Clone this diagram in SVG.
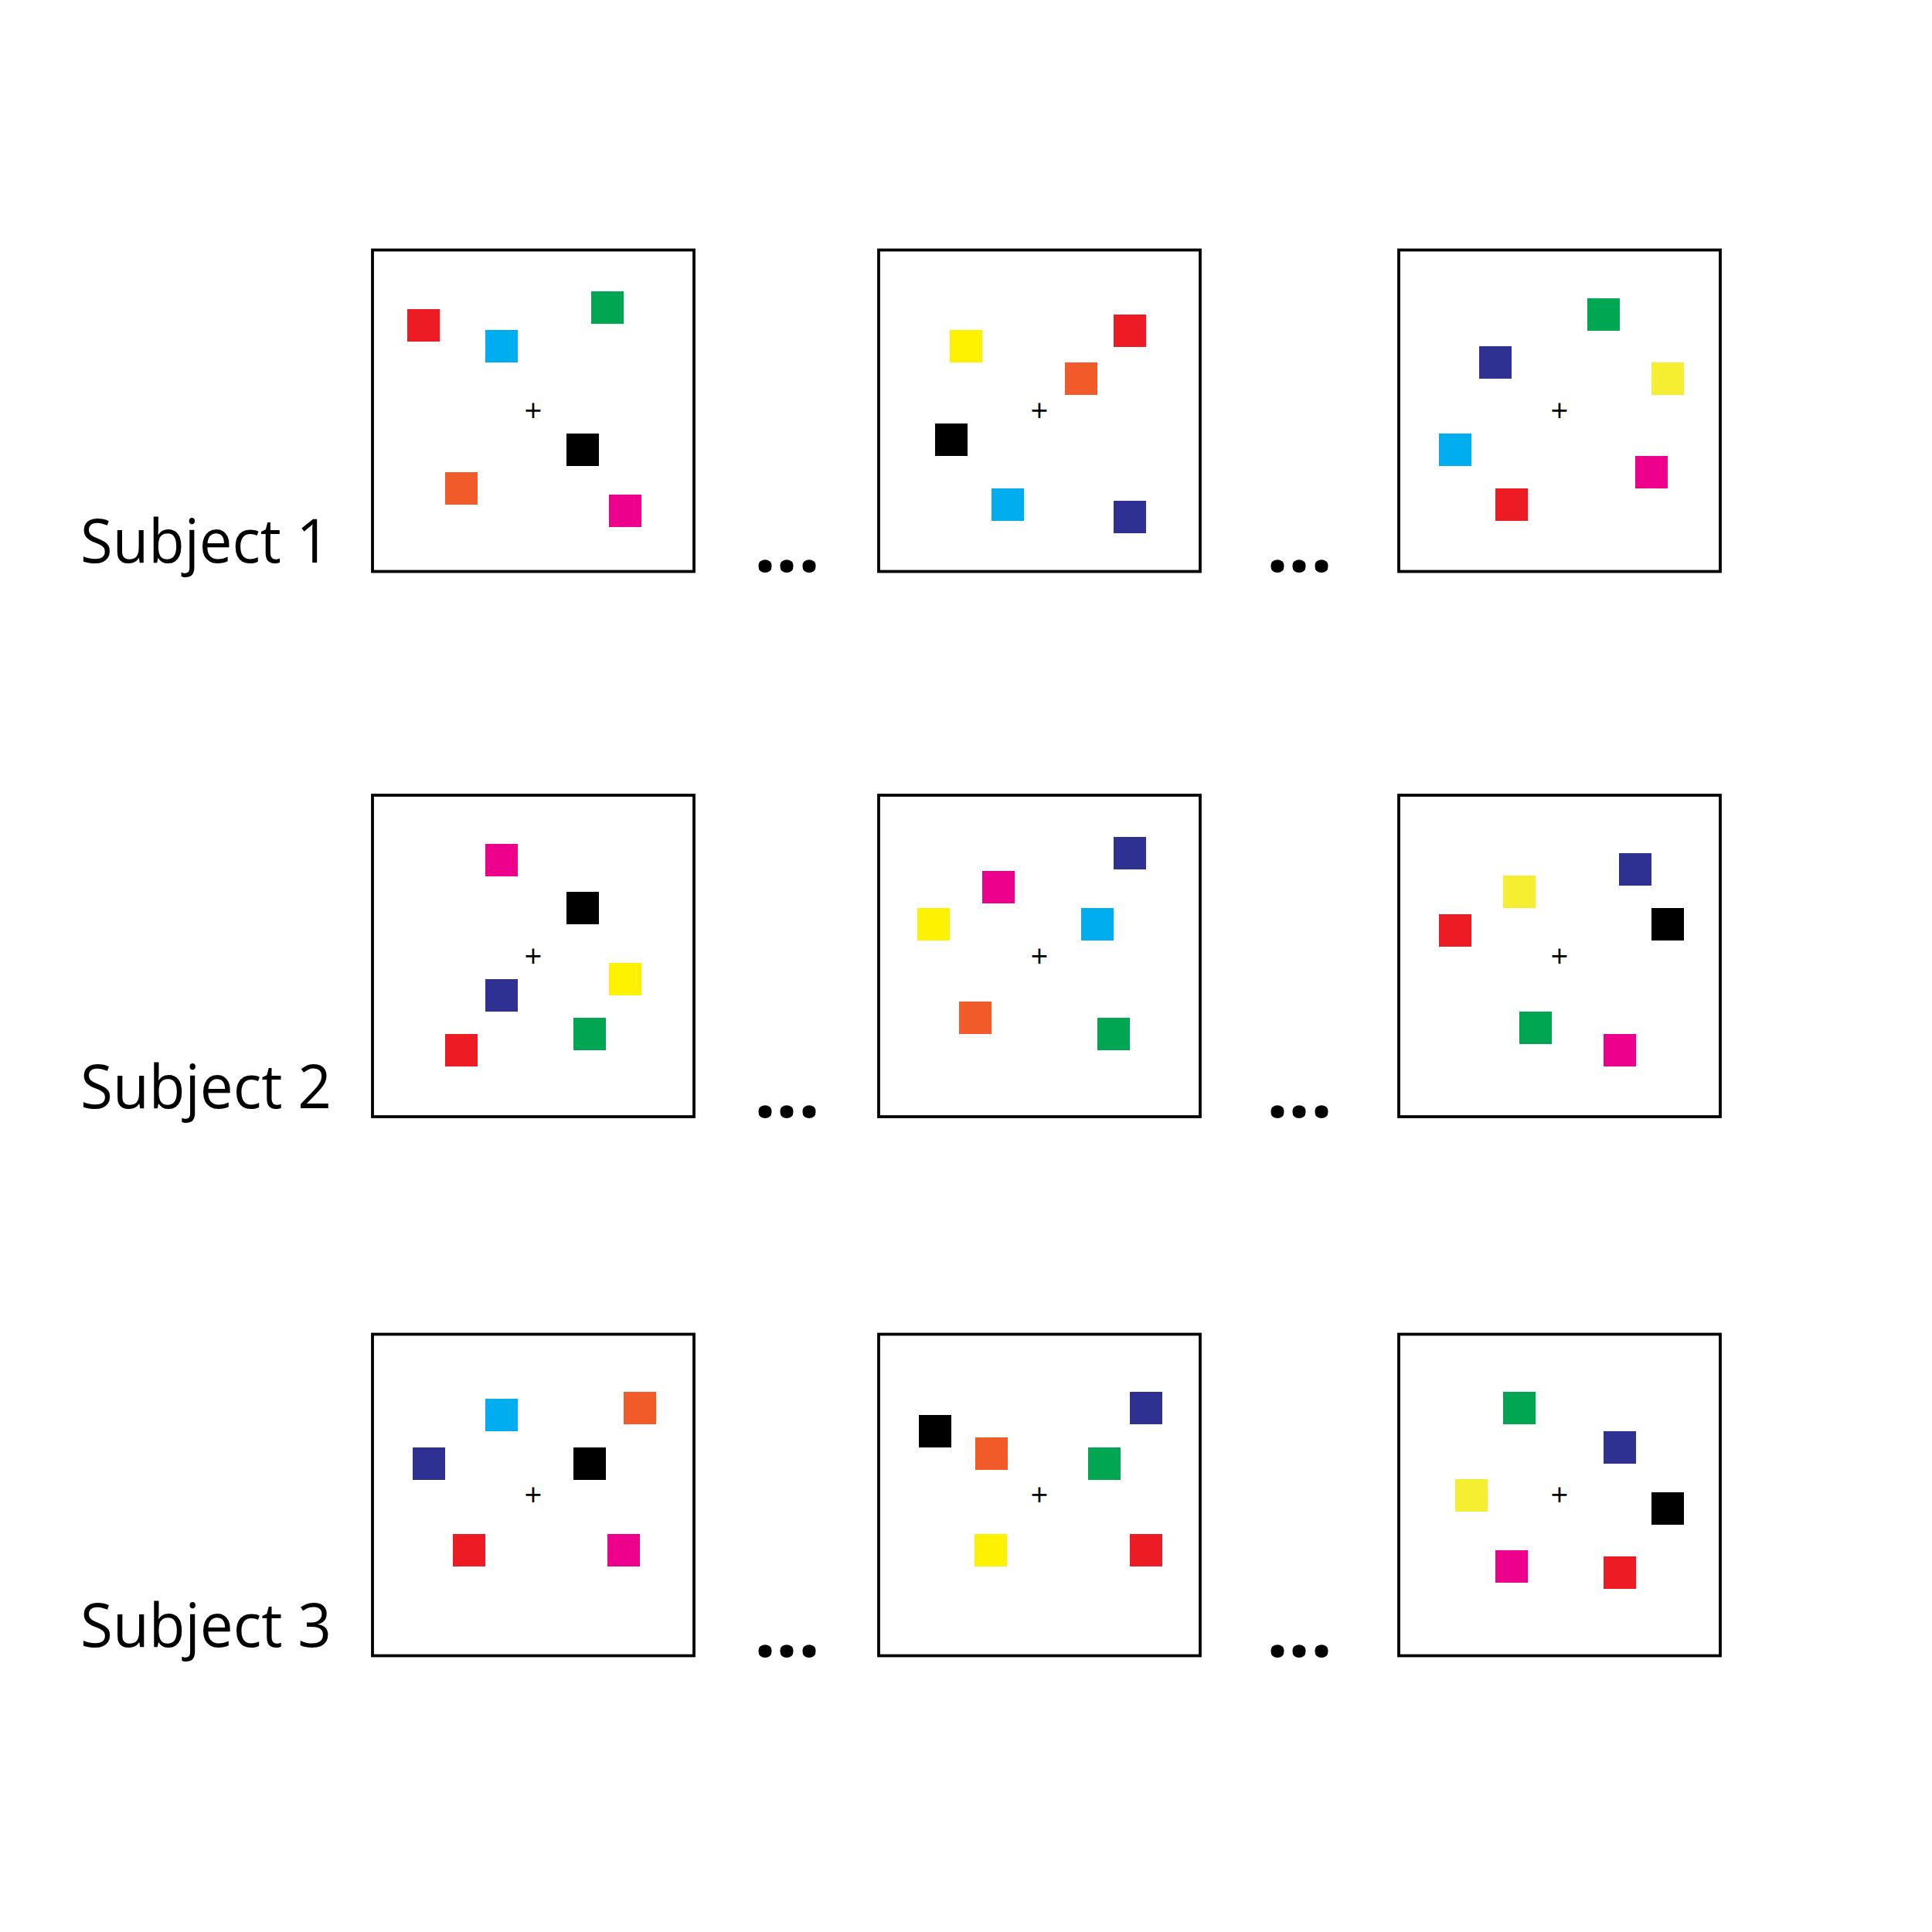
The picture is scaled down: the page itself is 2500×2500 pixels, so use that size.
<svg xmlns="http://www.w3.org/2000/svg" width="2500" height="2500" viewBox="0 0 2500 2500">
<style>
.frame{fill:#fff;stroke:#000;stroke-width:3.8}
.lbl{font-family:"Open Sans","Noto Sans",sans-serif;font-size:78px;fill:#000}
.cross{font-family:"Open Sans","Noto Sans",sans-serif;font-size:40px;fill:#000;text-anchor:middle}
.dots{font-family:"Open Sans","Noto Sans",sans-serif;font-size:100px;font-weight:bold;fill:#000;text-anchor:middle}
.r{fill:#ED1C24}.c{fill:#00AEEF}.g{fill:#00A651}.k{fill:#000}.o{fill:#F15A29}.m{fill:#EC008C}.n{fill:#2E3192}.y{fill:#FFF200}.ly{fill:#F5EE31}
</style>
<rect width="2500" height="2500" fill="#fff"/>
<g id="labels">
<text class="lbl" x="104" y="728" textLength="323" lengthAdjust="spacingAndGlyphs">Subject 1</text>
<text class="lbl" x="104" y="1434" textLength="325" lengthAdjust="spacingAndGlyphs">Subject 2</text>
<text class="lbl" x="104" y="2131" textLength="325" lengthAdjust="spacingAndGlyphs">Subject 3</text>
</g>
<g id="ellipses">
<text class="dots" x="990 1018 1047" y="740">...</text>
<text class="dots" x="1653 1681 1710" y="740">...</text>
<text class="dots" x="990 1018 1047" y="1446">...</text>
<text class="dots" x="1653 1681 1710" y="1446">...</text>
<text class="dots" x="990 1018 1047" y="2144">...</text>
<text class="dots" x="1653 1681 1710" y="2144">...</text>
</g>
<g id="s1-t1">
<rect class="frame" x="482" y="323.5" width="416" height="416"/>
<rect class="r" x="527" y="400" width="42" height="42"/>
<rect class="c" x="628" y="427" width="42" height="42"/>
<rect class="g" x="765" y="377" width="42" height="42"/>
<rect class="k" x="733" y="561" width="42" height="42"/>
<rect class="o" x="576" y="611" width="42" height="42"/>
<rect class="m" x="788" y="640" width="42" height="42"/>
<text class="cross" x="690" y="546">+</text>
</g>
<g id="s1-t2">
<rect class="frame" x="1137" y="323.5" width="416" height="416"/>
<rect class="y" x="1229" y="427" width="42" height="42"/>
<rect class="r" x="1441" y="407" width="42" height="42"/>
<rect class="o" x="1378" y="469" width="42" height="42"/>
<rect class="k" x="1210" y="548" width="42" height="42"/>
<rect class="c" x="1283" y="632" width="42" height="42"/>
<rect class="n" x="1441" y="648" width="42" height="42"/>
<text class="cross" x="1345" y="546">+</text>
</g>
<g id="s1-t3">
<rect class="frame" x="1810" y="323.5" width="416" height="416"/>
<rect class="g" x="2054" y="386" width="42" height="42"/>
<rect class="n" x="1914" y="448" width="42" height="42"/>
<rect class="ly" x="2137" y="469" width="42" height="42"/>
<rect class="c" x="1862" y="561" width="42" height="42"/>
<rect class="m" x="2116" y="590" width="42" height="42"/>
<rect class="r" x="1935" y="632" width="42" height="42"/>
<text class="cross" x="2018" y="546">+</text>
</g>
<g id="s2-t1">
<rect class="frame" x="482" y="1029" width="416" height="416"/>
<rect class="m" x="628" y="1092" width="42" height="42"/>
<rect class="k" x="733" y="1154" width="42" height="42"/>
<rect class="y" x="788" y="1246" width="42" height="42"/>
<rect class="n" x="628" y="1267" width="42" height="42"/>
<rect class="g" x="742" y="1317" width="42" height="42"/>
<rect class="r" x="576" y="1338" width="42" height="42"/>
<text class="cross" x="690" y="1251.5">+</text>
</g>
<g id="s2-t2">
<rect class="frame" x="1137" y="1029" width="416" height="416"/>
<rect class="n" x="1441" y="1083" width="42" height="42"/>
<rect class="m" x="1271" y="1127" width="42" height="42"/>
<rect class="y" x="1187" y="1175" width="42" height="42"/>
<rect class="c" x="1399" y="1175" width="42" height="42"/>
<rect class="o" x="1241" y="1296" width="42" height="42"/>
<rect class="g" x="1420" y="1317" width="42" height="42"/>
<text class="cross" x="1345" y="1251.5">+</text>
</g>
<g id="s2-t3">
<rect class="frame" x="1810" y="1029" width="416" height="416"/>
<rect class="n" x="2095" y="1104" width="42" height="42"/>
<rect class="ly" x="1945" y="1133" width="42" height="42"/>
<rect class="r" x="1862" y="1183" width="42" height="42"/>
<rect class="k" x="2137" y="1175" width="42" height="42"/>
<rect class="g" x="1966" y="1309" width="42" height="42"/>
<rect class="m" x="2075" y="1338" width="42" height="42"/>
<text class="cross" x="2018" y="1251.5">+</text>
</g>
<g id="s3-t1">
<rect class="frame" x="482" y="1726.5" width="416" height="416"/>
<rect class="c" x="628" y="1810" width="42" height="42"/>
<rect class="o" x="807" y="1801" width="42" height="42"/>
<rect class="n" x="534" y="1873" width="42" height="42"/>
<rect class="k" x="742" y="1873" width="42" height="42"/>
<rect class="r" x="586" y="1985" width="42" height="42"/>
<rect class="m" x="786" y="1985" width="42" height="42"/>
<text class="cross" x="690" y="1949">+</text>
</g>
<g id="s3-t2">
<rect class="frame" x="1137" y="1726.5" width="416" height="416"/>
<rect class="k" x="1189" y="1831" width="42" height="42"/>
<rect class="o" x="1262" y="1860" width="42" height="42"/>
<rect class="n" x="1462" y="1801" width="42" height="42"/>
<rect class="g" x="1408" y="1873" width="42" height="42"/>
<rect class="y" x="1261" y="1985" width="42" height="42"/>
<rect class="r" x="1462" y="1985" width="42" height="42"/>
<text class="cross" x="1345" y="1949">+</text>
</g>
<g id="s3-t3">
<rect class="frame" x="1810" y="1726.5" width="416" height="416"/>
<rect class="g" x="1945" y="1801" width="42" height="42"/>
<rect class="n" x="2075" y="1852" width="42" height="42"/>
<rect class="ly" x="1883" y="1914" width="42" height="42"/>
<rect class="k" x="2137" y="1931" width="42" height="42"/>
<rect class="m" x="1935" y="2006" width="42" height="42"/>
<rect class="r" x="2075" y="2014" width="42" height="42"/>
<text class="cross" x="2018" y="1949">+</text>
</g>
<g id="connectors"/>
</svg>
